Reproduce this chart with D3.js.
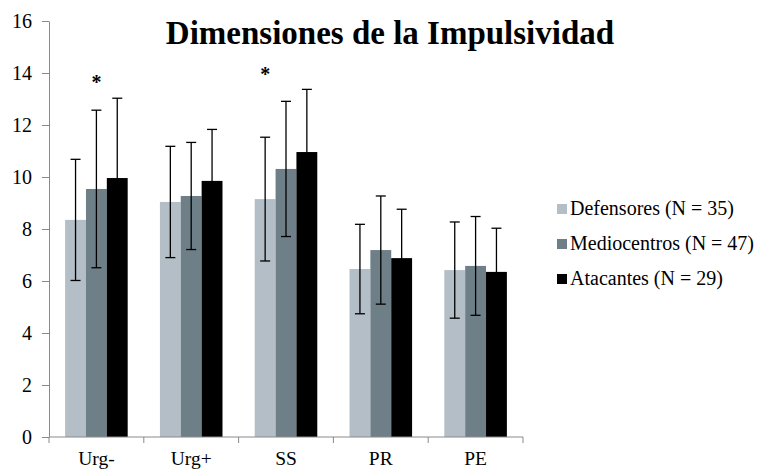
<!DOCTYPE html>
<html>
<head>
<meta charset="utf-8">
<script src="https://cdn.jsdelivr.net/npm/d3@7"></script>
<style>
  body { margin: 0; background: #fff; }
</style>
</head>
<body>
<svg id="chart" width="761" height="470"></svg>
<script>
// data
const categories = ["Urg-", "Urg+", "SS", "PR", "PE"];
const seriesNames = ["Defensores (N = 35)", "Mediocentros (N = 47)", "Atacantes (N = 29)"];
const seriesColors = ["#b3bec6", "#6e7f88", "#000000"];
const defensores = [8.35, 9.04, 9.15, 6.46, 6.42];
const defensoresSD = [2.33, 2.14, 2.38, 1.72, 1.85];
const mediocentros = [9.54, 9.27, 10.31, 7.19, 6.58];
const mediocentrosSD = [3.03, 2.06, 2.60, 2.08, 1.90];
const atacantes = [9.96, 9.85, 10.96, 6.88, 6.35];
const atacantesSD = [3.07, 1.98, 2.41, 1.88, 1.68];
const yTicks = [0, 2, 4, 6, 8, 10, 12, 14, 16];
// significance marks: category, series index it sits over, height
const asterisks = [
  { cat: "Urg-", s: 1, v: 13.4 },
  { cat: "SS", s: 0, v: 13.7 }
];

const means = [defensores, mediocentros, atacantes];
const sds = [defensoresSD, mediocentrosSD, atacantesSD];

const svg = d3.select('#chart');
const plotLeft = 49, plotRight = 523, plotTop = 21, plotBottom = 437;
const font = 'Liberation Serif';
const labelSize = '19.5px';
const legendSize = '20px';

const x = d3.scaleBand().domain(categories).range([plotLeft, plotRight]).padding(0);
const bw = x.bandwidth();
const x1 = d3.scaleBand().domain(d3.range(seriesNames.length)).range([bw * 0.17, bw * 0.83]).padding(0);
const y = d3.scaleLinear().domain([0, 16]).range([plotBottom, plotTop]);

// bars
const rows = [];
categories.forEach((c, i) => {
  means.forEach((m, s) => rows.push({ cat: c, s: s, v: m[i], sd: sds[s][i] }));
});

svg.append('g')
  .selectAll('rect')
  .data(rows)
  .enter()
  .append('rect')
  .attr('x', (d) => x(d.cat) + x1(d.s))
  .attr('y', (d) => y(d.v))
  .attr('width', x1.bandwidth())
  .attr('height', (d) => y(0) - y(d.v))
  .attr('fill', (d) => seriesColors[d.s]);

// error bars
const err = svg.append('g').attr('stroke', '#000').attr('stroke-width', 1.3);
const cx = (d) => x(d.cat) + x1(d.s) + x1.bandwidth() / 2;
err.selectAll('.stem').data(rows).enter().append('line')
  .attr('x1', cx).attr('x2', cx)
  .attr('y1', (d) => y(d.v + d.sd)).attr('y2', (d) => y(d.v - d.sd));
['top', 'bot'].forEach((k) => {
  err.selectAll('.cap-' + k).data(rows).enter().append('line')
    .attr('x1', (d) => cx(d) - 5).attr('x2', (d) => cx(d) + 5)
    .attr('y1', (d) => y(k === 'top' ? d.v + d.sd : d.v - d.sd))
    .attr('y2', (d) => y(k === 'top' ? d.v + d.sd : d.v - d.sd));
});

// y axis
const yAxis = svg.append('g')
  .attr('transform', `translate(${plotLeft},0)`)
  .call(d3.axisLeft(y).tickValues(yTicks).tickSize(7).tickSizeOuter(0));
yAxis.attr('font-family', font).attr('font-size', 20);
yAxis.select('.domain').attr('stroke', '#8a8a8a');
yAxis.selectAll('.tick line').attr('stroke', '#8a8a8a');
yAxis.selectAll('.tick text')
  .attr('x', -17)
  .attr('dy', '0.33em')
  .style('font-family', font)
  .style('font-size', legendSize)
  .attr('fill', '#000');

// x axis: line with ticks on the category boundaries
const xAxis = svg.append('g').attr('stroke', '#8a8a8a');
xAxis.append('line').attr('x1', plotLeft).attr('x2', plotRight).attr('y1', plotBottom).attr('y2', plotBottom);
xAxis.selectAll('.xt')
  .data(categories.map((c) => x(c)).concat([x.range()[1]]))
  .enter()
  .append('line')
  .attr('x1', (d) => d).attr('x2', (d) => d)
  .attr('y1', plotBottom).attr('y2', plotBottom + 6);

svg.append('g')
  .selectAll('text')
  .data(categories)
  .enter()
  .append('text')
  .attr('x', (d) => x(d) + bw / 2)
  .attr('y', 465)
  .attr('text-anchor', 'middle')
  .style('font-family', font)
  .style('font-size', labelSize)
  .text((d) => d);

// asterisks
svg.append('g')
  .selectAll('text')
  .data(asterisks)
  .enter()
  .append('text')
  .attr('x', (d) => x(d.cat) + x1(d.s) + x1.bandwidth() / 2)
  .attr('y', (d) => y(d.v))
  .attr('text-anchor', 'middle')
  .style('font-family', font)
  .style('font-size', '20px')
  .style('font-weight', 'bold')
  .text('*');

// title
svg.append('text')
  .attr('x', 390)
  .attr('y', 44)
  .attr('text-anchor', 'middle')
  .style('font-family', font)
  .style('font-size', '33px')
  .style('font-weight', 'bold')
  .text('Dimensiones de la Impulsividad');

// legend
const legend = svg.append('g')
  .selectAll('g')
  .data(seriesNames)
  .enter()
  .append('g')
  .attr('transform', (d, i) => `translate(557,${209 + i * 35})`);

legend.append('rect')
  .attr('x', 0)
  .attr('y', -5)
  .attr('width', 10)
  .attr('height', 10)
  .attr('fill', (d, i) => seriesColors[i]);

legend.append('text')
  .attr('x', 13)
  .attr('y', 6)
  .style('font-family', font)
  .style('font-size', legendSize)
  .text((d) => d);
</script>
</body>
</html>
